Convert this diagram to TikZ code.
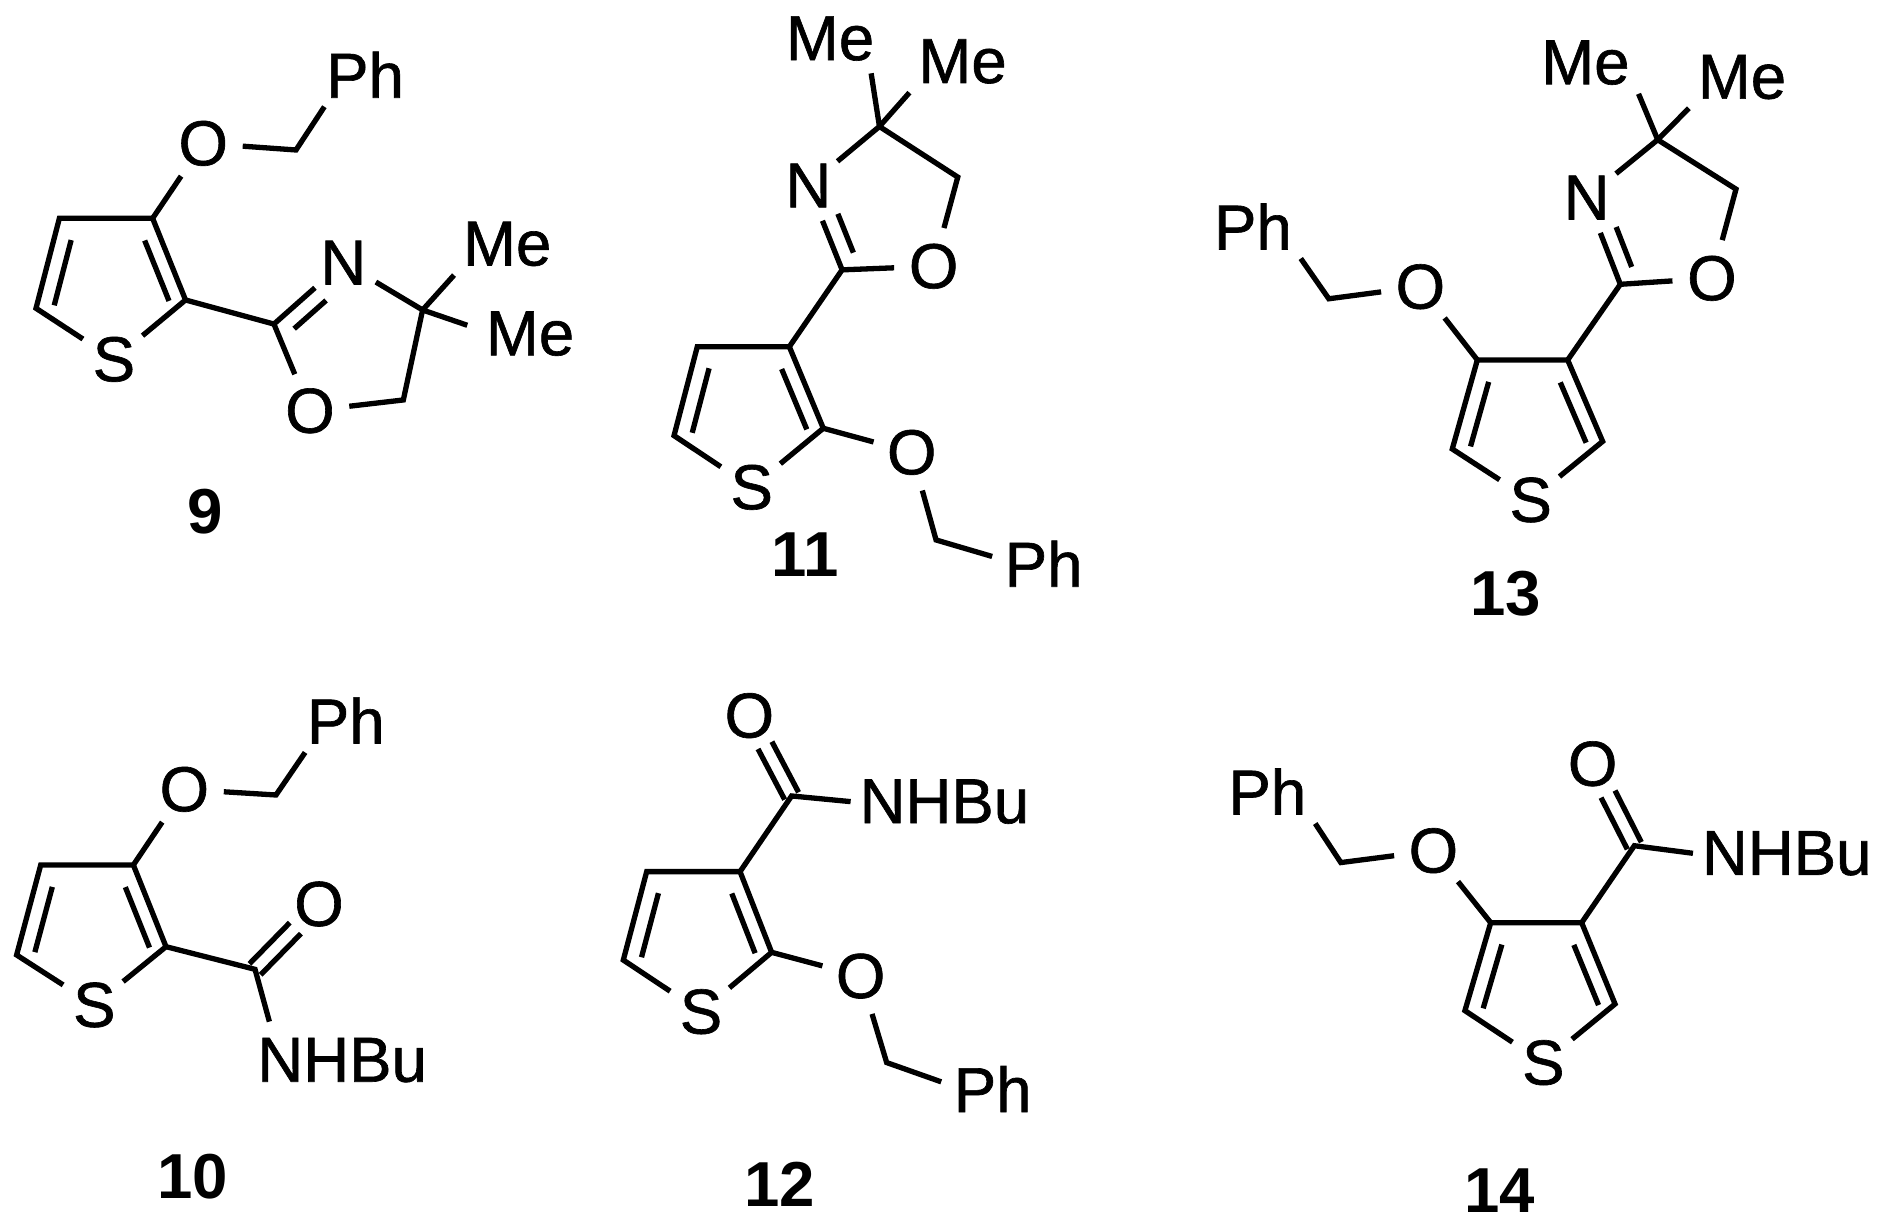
\documentclass[tikz,border=0pt]{standalone}
\usepackage{fontspec}
\setmainfont{Liberation Sans}
\newfontfamily\chemfont[FakeBold=1]{Liberation Sans}
\usetikzlibrary{calc}
\newcommand{\ibond}[5]{\draw ($(#1)!#3!(#2)!#5!90:(#2)$) -- ($(#1)!#4!(#2)!#5!90:(#2)$);}
\tikzset{
  atom/.style={circle,inner sep=0.6pt,font=\fontsize{15}{18}\chemfont},
  grp/.style={rectangle,inner sep=1.5pt,font=\fontsize{15}{18}\chemfont},
  tag/.style={rectangle,inner sep=0pt,font=\fontsize{15}{18}\selectfont\bfseries},
  every path/.style={line width=1.25pt,line join=miter}
}
\begin{document}
\begin{tikzpicture}[x=0.01cm,y=-0.01cm]
\useasboundingbox (0,0) rectangle (1568,1021);
% ---------- 9
\node[grp] (aph) at (303,62) {Ph};
\node[atom] (ao) at (168.7,119) {O};
\coordinate (ach) at (245.7,124.5);
\coordinate (ac3) at (126.7,181.2);
\coordinate (ac4) at (49.3,181.2);
\coordinate (ac5) at (29.9,255.9);
\node[atom] (as) at (94.6,298.3) {S};
\coordinate (ac2) at (154,249);
\coordinate (ac) at (227.4,269);
\node[atom] (an) at (285,218) {N};
\coordinate (aq) at (350.8,257.3);
\node[grp] (ame1) at (421,202.5) {Me};
\node[grp] (ame2) at (440,277) {Me};
\node[atom] (ao2) at (257.3,341) {O};
\coordinate (ach2) at (334.8,332);
\node[tag] (al) at (170,425) {9};
\draw ($(aph.south west)+(6,0)$) -- (ach) -- (ao);
\draw (ao) -- (ac3);
\draw (as) -- (ac5) -- (ac4) -- (ac3) -- (ac2) -- (as);
\ibond{ac4}{ac5}{.195}{.92}{0.14cm}
\ibond{ac2}{ac3}{.06}{.8}{0.13cm}
\draw (ac2) -- (ac);
\draw (an) -- (ac) -- (ao2);
\ibond{an}{ac}{.41}{.87}{0.14cm}
\draw (an) -- (aq) -- (ach2) -- (ao2);
\draw (aq) -- (ame1.south west);
\draw (aq) -- ($(ame2.west)+(-8,-7)$);
% ---------- 11
\node[grp] (bme1) at (689,32) {Me};
\node[grp] (bme2) at (799,51) {Me};
\coordinate (bq) at (730,105);
\node[atom] (bn) at (671,154) {N};
\coordinate (bc) at (699,224);
\node[atom] (bo) at (775,221) {O};
\coordinate (bch) at (795,147);
\coordinate (bc3) at (655.2,287.8);
\coordinate (bc4) at (578.8,287.8);
\coordinate (bc5) at (559.5,361.6);
\node[atom] (bs) at (624,404.5) {S};
\coordinate (bc2) at (683.4,355.5);
\node[atom] (bo2) at (756.8,375.5) {O};
\coordinate (bch2) at (777,448.2);
\node[grp] (bph) at (866.3,467.9) {Ph};
\node[tag] (bl) at (668.2,460.7) {11};
\draw (bq) -- ($(bme1.south east)+(-10,3)$);
\draw (bq) -- (bme2.south west);
\draw (bn) -- (bq) -- (bch) -- (bo) -- (bc) -- (bn);
\ibond{bn}{bc}{.41}{.87}{0.14cm}
\draw (bc) -- (bc3);
\draw (bs) -- (bc5) -- (bc4) -- (bc3) -- (bc2) -- (bs);
\ibond{bc4}{bc5}{.195}{.92}{0.14cm}
\ibond{bc2}{bc3}{.06}{.8}{0.13cm}
\draw (bc2) -- (bo2) -- (bch2) -- ($(bph.west)+(-3,-6)$);
% ---------- 13
\node[grp] (cme1) at (1316,52) {Me};
\node[grp] (cme2) at (1446,64) {Me};
\coordinate (cq) at (1376,116);
\node[atom] (cn) at (1317,164) {N};
\coordinate (cc) at (1345,236);
\node[atom] (co) at (1421,231) {O};
\coordinate (cch) at (1441,157);
\coordinate (cc3) at (1301.3,298.8);
\coordinate (cc4) at (1226.3,298.8);
\coordinate (cc5) at (1205.5,372.7);
\node[atom] (cs) at (1270.6,415) {S};
\coordinate (cc2) at (1330.3,366.4);
\node[atom] (co2) at (1179,238) {O};
\coordinate (cch2) at (1103,248);
\node[grp] (cph) at (1040,188) {Ph};
\node[tag] (cl) at (1250,493) {13};
\draw (cq) -- (cme1.south east);
\draw (cq) -- (cme2.south west);
\draw (cn) -- (cq) -- (cch) -- (co) -- (cc) -- (cn);
\ibond{cn}{cc}{.41}{.87}{0.14cm}
\draw (cc) -- (cc3);
\draw (cs) -- (cc5) -- (cc4) -- (cc3) -- (cc2) -- (cs);
\ibond{cc4}{cc5}{.195}{.92}{0.14cm}
\ibond{cc2}{cc3}{.06}{.8}{0.13cm}
\draw (cc4) -- (co2) -- (cch2) -- (cph.south east);
% ---------- 10
\node[grp] (dph) at (287,598) {Ph};
\coordinate (dch) at (229.1,659.9);
\node[atom] (do) at (153,655.2) {O};
\coordinate (dc3) at (110.7,718);
\coordinate (dc4) at (33.8,718);
\coordinate (dc5) at (13.8,792.7);
\node[atom] (ds) at (78.3,834.2) {S};
\coordinate (dc2) at (137.8,785.8);
\coordinate (dc) at (211.7,804.6);
\node[atom] (do2) at (264.8,750.4) {O};
\node[grp] (dnh) at (284,880) {NHBu};
\coordinate (dne) at (223.6,848);
\node[tag] (dl) at (160,977) {10};
\draw ($(dph.south west)+(6,0)$) -- (dch) -- (do) -- (dc3);
\draw (ds) -- (dc5) -- (dc4) -- (dc3) -- (dc2) -- (ds);
\ibond{dc4}{dc5}{.195}{.92}{0.14cm}
\ibond{dc2}{dc3}{.06}{.8}{0.13cm}
\draw (dc2) -- (dc) -- (dne);
\ibond{dc}{do2}{0}{.63}{0.065cm}
\ibond{dc}{do2}{0}{.63}{-0.065cm}
% ---------- 12
\node[atom] (eo2) at (622,594) {O};
\coordinate (ec) at (657.1,660.7);
\node[grp] (enh) at (783.9,665.4) {NHBu};
\coordinate (ec3) at (614.3,723.5);
\coordinate (ec4) at (536.8,723.5);
\coordinate (ec5) at (517.4,796.9);
\node[atom] (es) at (581.9,839.8) {S};
\coordinate (ec2) at (640.5,790.5);
\node[atom] (eo) at (714.4,810.2) {O};
\coordinate (ech) at (736,882);
\node[grp] (eph) at (824,904) {Ph};
\node[tag] (el) at (647,983) {12};
\draw (ec3) -- (ec) -- (enh.west);
\ibond{ec}{eo2}{0}{.63}{0.065cm}
\ibond{ec}{eo2}{0}{.63}{-0.065cm}
\draw (es) -- (ec5) -- (ec4) -- (ec3) -- (ec2) -- (es);
\ibond{ec4}{ec5}{.195}{.92}{0.14cm}
\ibond{ec2}{ec3}{.06}{.8}{0.13cm}
\draw (ec2) -- (eo) -- (ech) -- ($(eph.west)+(-3,-6)$);
% ---------- 14
\node[grp] (fph) at (1052,657) {Ph};
\coordinate (fch) at (1113,716);
\node[atom] (fo) at (1189.8,706.1) {O};
\coordinate (fc4) at (1237.4,765.9);
\coordinate (fc3) at (1312.9,765.9);
\coordinate (fc) at (1356.6,702);
\node[atom] (fo2) at (1322,634) {O};
\node[grp] (fnh) at (1483.1,708.3) {NHBu};
\coordinate (fc5) at (1216,838.9);
\node[atom] (fs) at (1281.1,882.1) {S};
\coordinate (fc2) at (1340.6,833.4);
\node[tag] (fl) at (1245,988) {14};
\draw (fph.south east) -- (fch) -- (fo) -- (fc4);
\draw (fs) -- (fc5) -- (fc4) -- (fc3) -- (fc2) -- (fs);
\ibond{fc4}{fc5}{.195}{.92}{0.14cm}
\ibond{fc2}{fc3}{.06}{.8}{0.13cm}
\draw (fc3) -- (fc) -- (fnh.west);
\ibond{fc}{fo2}{0}{.63}{0.065cm}
\ibond{fc}{fo2}{0}{.63}{-0.065cm}
\end{tikzpicture}
\end{document}
